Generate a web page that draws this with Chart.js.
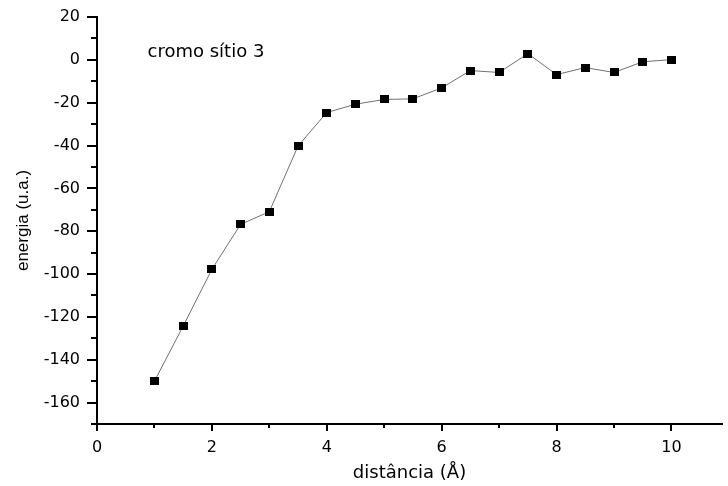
<!DOCTYPE html>
<html>
<head>
<meta charset="utf-8">
<script src="https://cdn.jsdelivr.net/npm/chart.js@4"></script>
<style>
  html, body { margin: 0; padding: 0; background: #fff; }
  #wrap { width: 728px; height: 486px; }
</style>
</head>
<body>
<div id="wrap"><canvas id="chart" width="728" height="486"></canvas></div>
<script>
const distances = [1, 1.5, 2, 2.5, 3, 3.5, 4, 4.5, 5, 5.5, 6, 6.5, 7, 7.5, 8, 8.5, 9, 9.5, 10];
const energies = [-150, -124.3, -97.8, -76.8, -70.9, -40.2, -24.6, -20.7, -18.5, -18.2, -13.1, -5.0, -5.9, 2.9, -6.9, -3.6, -5.9, -0.9, 0.1];
const xTicks = [0, 2, 4, 6, 8, 10];
const yTicks = [-160, -140, -120, -100, -80, -60, -40, -20, 0, 20];
const label = 'cromo sítio 3';

// black marker, a bit wider than tall like the original
const marker = document.createElement('canvas');
marker.width = 9;
marker.height = 8;
const mctx = marker.getContext('2d');
mctx.fillStyle = '#000';
mctx.fillRect(0, 0, 9, 8);

// tick marks (major + minor) drawn outside the axes, plus the label
const extras = {
  id: 'extras',
  afterDraw(chart) {
    const ctx = chart.ctx;
    const xs = chart.scales.x, ys = chart.scales.y;
    const area = chart.chartArea;
    ctx.save();
    ctx.strokeStyle = '#000';
    ctx.lineWidth = 2;
    ctx.beginPath();
    for (let v = 0; v <= 10; v += 1) {
      const px = Math.round(xs.getPixelForValue(v));
      const len = xTicks.includes(v) ? 7 : 4;
      ctx.moveTo(px, area.bottom);
      ctx.lineTo(px, area.bottom + len);
    }
    for (let v = -170; v <= 20; v += 10) {
      const py = Math.round(ys.getPixelForValue(v));
      const len = yTicks.includes(v) ? 10 : 6;
      ctx.moveTo(area.left, py);
      ctx.lineTo(area.left - len, py);
    }
    ctx.stroke();

    ctx.fillStyle = '#000';
    ctx.font = '18px "DejaVu Sans"';
    ctx.textBaseline = 'middle';
    ctx.textAlign = 'left';
    ctx.fillText(label, xs.getPixelForValue(0.88), ys.getPixelForValue(3.3));
    ctx.restore();
  }
};

new Chart(document.getElementById('chart'), {
  type: 'scatter',
  data: {
    datasets: [{
      data: distances.map((d, i) => ({ x: d, y: energies[i] })),
      showLine: true,
      borderColor: '#707070',
      borderWidth: 1,
      pointStyle: marker,
      pointRadius: 5,
      backgroundColor: '#000'
    }]
  },
  options: {
    responsive: false,
    animation: false,
    layout: { padding: { left: 0, right: 0, top: 17, bottom: 0 } },
    plugins: {
      legend: { display: false },
      tooltip: { enabled: false }
    },
    scales: {
      x: {
        type: 'linear',
        min: 0,
        max: 10.88,
        afterFit: s => { s.height = 62; s.paddingRight = 0; },
        grid: { display: false, drawTicks: false },
        border: { display: true, color: '#000', width: 2 },
        ticks: {
          stepSize: 2,
          includeBounds: false,
          padding: 14,
          color: '#000',
          font: { family: 'DejaVu Sans', size: 16 },
          maxRotation: 0
        },
        title: {
          display: true,
          text: 'distância (Å)',
          color: '#000',
          font: { family: 'DejaVu Sans', size: 18 },
          padding: { top: 0, bottom: 2 }
        }
      },
      y: {
        type: 'linear',
        min: -170,
        max: 20,
        afterFit: s => { s.width = 97; s.paddingTop = 10; s.paddingBottom = 0; },
        grid: { display: false, drawTicks: false },
        border: { display: true, color: '#000', width: 2 },
        ticks: {
          stepSize: 20,
          includeBounds: false,
          padding: 17,
          color: '#000',
          font: { family: 'DejaVu Sans', size: 16 }
        },
        title: {
          display: true,
          text: 'energia (u.a.)',
          color: '#000',
          font: { family: 'Liberation Sans', size: 17 },
          padding: { top: 13, bottom: 0 }
        }
      }
    }
  },
  plugins: [extras]
});
</script>
</body>
</html>
